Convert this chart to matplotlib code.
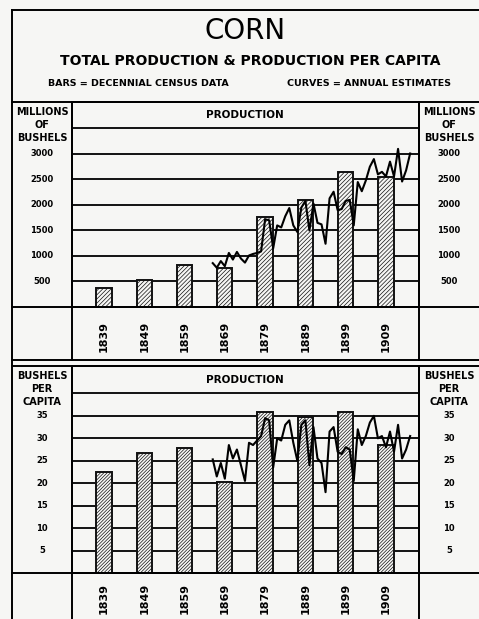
import numpy as np
import matplotlib
matplotlib.use("Agg")
import matplotlib.pyplot as plt
from matplotlib.lines import Line2D
from matplotlib import transforms

W, H = 479, 619
BG = '#f6f6f4'

census_years = [1839, 1849, 1859, 1869, 1879, 1889, 1899, 1909]
census_prod = [378, 520, 825, 765, 1765, 2100, 2650, 2550]
census_percap = [22.4, 26.7, 27.8, 20.2, 35.8, 34.7, 35.8, 28.5]

annual_years = list(range(1866, 1916))
annual_prod = [860, 770, 900, 800, 1060, 930, 1080, 950, 870, 1010,
               1040, 1060, 1090, 1720, 1700, 1150, 1600, 1560, 1780, 1940,
               1600, 1470, 1950, 2080, 1500, 2030, 1650, 1620, 1240, 2130,
               2260, 1900, 1920, 2080, 2100, 1600, 2450, 2270, 2480, 2750,
               2900, 2600, 2650, 2560, 2850, 2560, 3100, 2460, 2680, 3010]
annual_percap = [25.3, 21.5, 24.5, 21.0, 28.5, 25.5, 27.5, 24.0, 20.5, 29.0,
                 28.5, 29.5, 30.5, 34.5, 34.0, 23.5, 30.0, 29.5, 33.0, 34.0,
                 29.0, 25.0, 33.0, 34.0, 24.0, 32.5, 25.5, 24.5, 18.0, 31.5,
                 32.5, 27.0, 26.5, 28.0, 27.5, 20.5, 32.0, 28.5, 30.5, 33.5,
                 35.0, 30.0, 30.5, 28.0, 31.5, 27.0, 33.0, 25.5, 27.5, 30.5]

prod_ticks = [500, 1000, 1500, 2000, 2500, 3000]
percap_ticks = [5, 10, 15, 20, 25, 30, 35]

plt.rcParams['hatch.linewidth'] = 0.5

fig = plt.figure(figsize=(W / 100, H / 100), dpi=100)
fig.patch.set_facecolor(BG)


def fx(x):
    return x / W


def fy(y):
    return 1 - y / H


def hline(x0, x1, y, lw=1.4):
    fig.add_artist(Line2D([fx(x0), fx(x1)], [fy(y), fy(y)], color='k', lw=lw))


def vline(x, y0, y1, lw=1.4):
    fig.add_artist(Line2D([fx(x), fx(x)], [fy(y0), fy(y1)], color='k', lw=lw))


# titles
fig.text(fx(245), fy(31), 'CORN', ha='center', va='center', fontsize=20)
fig.text(fx(250), fy(61), 'TOTAL PRODUCTION & PRODUCTION PER CAPITA',
         ha='center', va='center', fontsize=10, fontweight='bold')
fig.text(fx(138), fy(83), 'BARS = DECENNIAL CENSUS DATA', ha='center',
         va='center', fontsize=6.8, fontweight='bold')
fig.text(fx(369), fy(83), 'CURVES = ANNUAL ESTIMATES', ha='center',
         va='center', fontsize=6.8, fontweight='bold')

# outer frame
hline(12, W, 10)
vline(12, 10, H)
hline(12, W, 101.7)


def panel(top, base, label_y, ymax, ticks, hdr_line, bars, years_a, vals_a,
          unit_lines, hatch):
    ax = fig.add_axes([fx(72), fy(base), fx(419) - fx(72), (base - top) / H])
    ax.set_facecolor(BG)
    ax.set_xlim(1831.06, 1917.2)
    ax.set_ylim(0, ymax)
    for s in ax.spines.values():
        s.set_linewidth(1.4)
    ax.set_xticks([])
    ax.set_yticks([])
    for v in ticks + [hdr_line]:
        ax.axhline(v, color='k', lw=1.3, zorder=1)
    ax.bar(census_years, bars, width=3.8, facecolor=BG, edgecolor='#111111',
           hatch=hatch, lw=1.4, zorder=2)
    ax.plot(years_a, vals_a, color='k', lw=1.5, zorder=3)
    ax.text(1874, (hdr_line + ymax) / 2, 'PRODUCTION', ha='center',
            va='center', fontsize=7.5, fontweight='bold')

    tx = transforms.blended_transform_factory(ax.transData, fig.transFigure)
    for yr in census_years:
        ax.text(yr, fy(label_y), str(yr), transform=tx, rotation=90,
                ha='center', va='center', fontsize=8, fontweight='bold',
                clip_on=False)

    ty = transforms.blended_transform_factory(fig.transFigure, ax.transData)
    for v in ticks:
        for cx in (42, 449):
            fig.text(fx(cx), v, str(v), transform=ty, ha='center',
                     va='center', fontsize=6, fontweight='bold')
    for i, word in enumerate(unit_lines):
        for cx in (42, 449):
            fig.text(fx(cx), fy(top + 10 + i * 13), word, ha='center',
                     va='center', fontsize=7, fontweight='bold')
    return ax


# upper panel: total production
panel(101.7, 307, 336, 4025, prod_ticks, 3500, census_prod, annual_years,
      annual_prod, ['MILLIONS', 'OF', 'BUSHELS'], '////////')
vline(72, 101.7, 360)
vline(419, 101.7, 360)
hline(12, W, 307)
hline(12, W, 360)
hline(12, W, 366)

# lower panel: production per capita
panel(366, 573, 598, 46.1, percap_ticks, 40, census_percap, annual_years,
      annual_percap, ['BUSHELS', 'PER', 'CAPITA'], '//////////')
vline(72, 366, H)
vline(419, 366, H)
hline(12, W, 573)

fig.savefig('out.png', dpi=100, facecolor=BG)
